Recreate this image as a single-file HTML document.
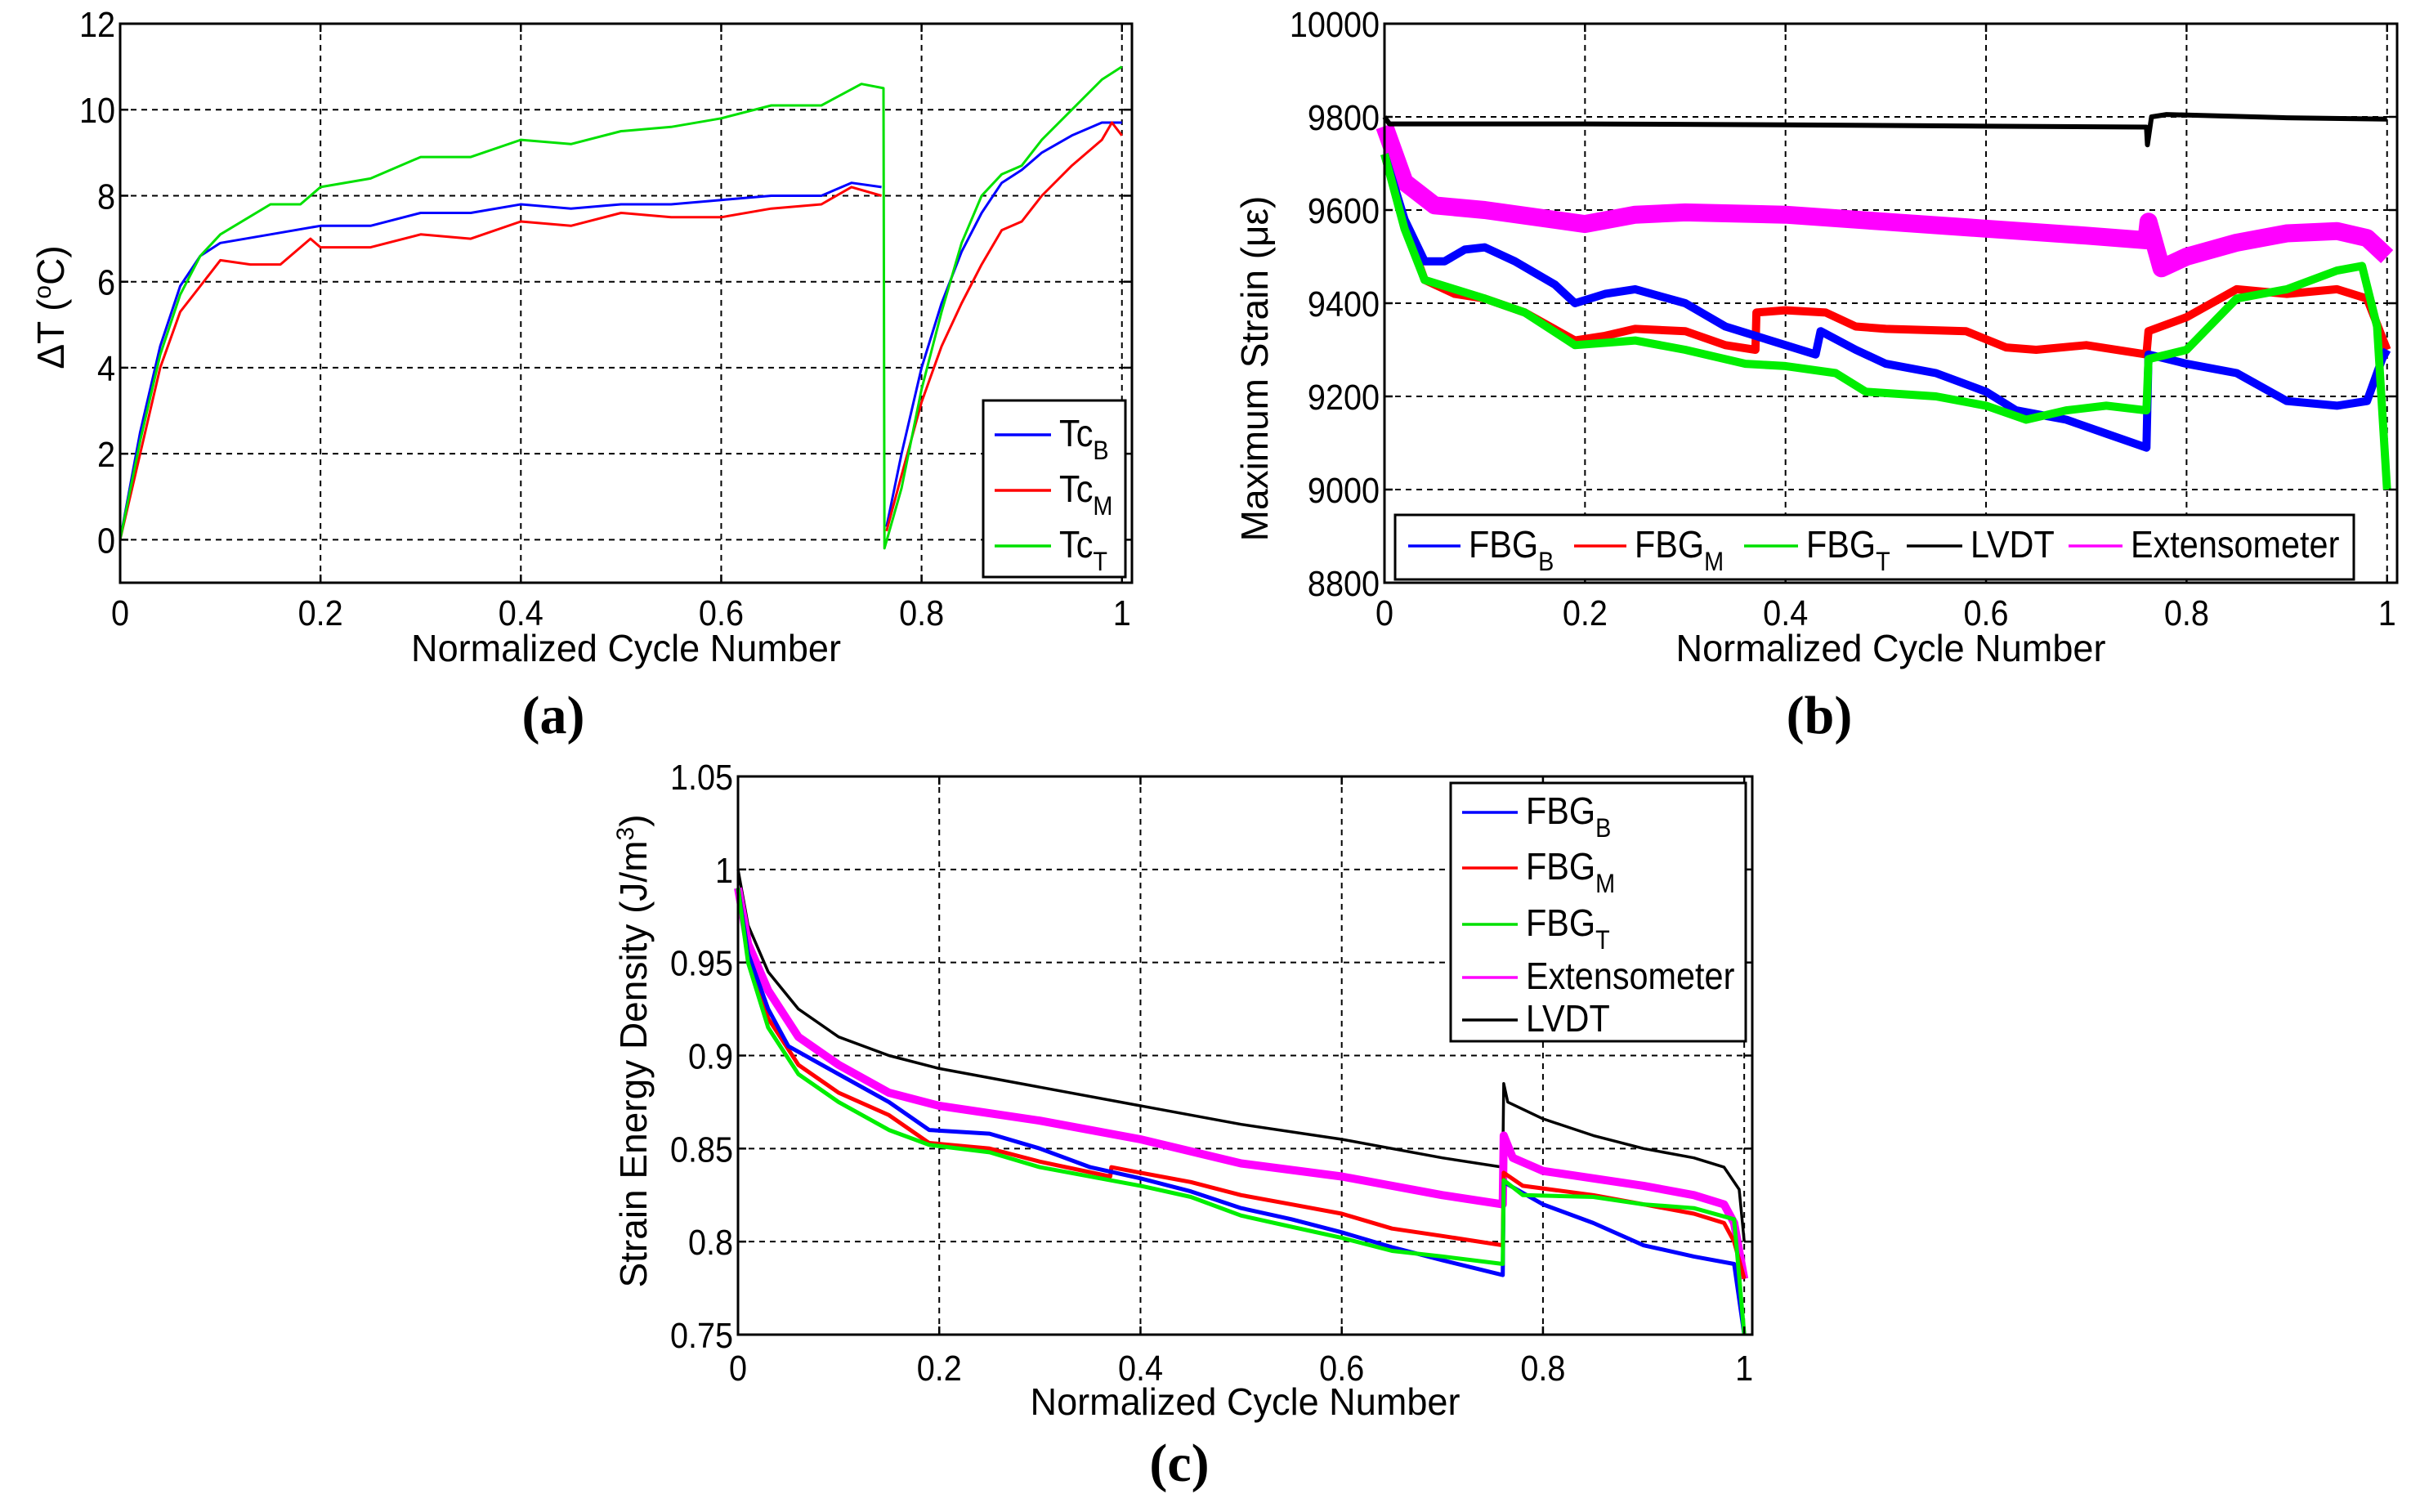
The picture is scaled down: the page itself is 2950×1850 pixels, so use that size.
<!DOCTYPE html>
<html><head><meta charset="utf-8"><style>
html,body{margin:0;padding:0;background:#fff;overflow:hidden;}
svg{display:block;}
text{font-family:"Liberation Sans",sans-serif;fill:#000;}
</style></head><body>
<svg id="fig" width="2950" height="1850" viewBox="0 0 2950 1850" xmlns="http://www.w3.org/2000/svg"></svg>
<script>
// ---------- Chart (a) data: Delta T ----------
const aTcBx=[0,0.02,0.04,0.06,0.08,0.1,0.15,0.2,0.25,0.3,0.35,0.4,0.45,0.5,0.55,0.6,0.65,0.7,0.73,0.76,null,0.765,0.78,0.8,0.82,0.84,0.86,0.88,0.9,0.92,0.95,0.98,1.0];
const aTcBy=[0,2.5,4.5,5.9,6.6,6.9,7.1,7.3,7.3,7.6,7.6,7.8,7.7,7.8,7.8,7.9,8.0,8.0,8.3,8.2,null,0.3,2.0,4.0,5.5,6.7,7.6,8.3,8.6,9.0,9.4,9.7,9.7];
const aTcMx=[0,0.02,0.04,0.06,0.08,0.1,0.13,0.16,0.19,0.2,0.25,0.3,0.35,0.4,0.45,0.5,0.55,0.6,0.65,0.7,0.73,0.76,null,0.765,0.78,0.8,0.82,0.84,0.86,0.88,0.9,0.92,0.95,0.98,0.99,1.0];
const aTcMy=[0,2.0,4.0,5.3,5.9,6.5,6.4,6.4,7.0,6.8,6.8,7.1,7.0,7.4,7.3,7.6,7.5,7.5,7.7,7.8,8.2,8.0,null,0.2,1.5,3.2,4.5,5.5,6.4,7.2,7.4,8.0,8.7,9.3,9.7,9.4];
const aTcTx=[0,0.02,0.04,0.06,0.08,0.1,0.15,0.18,0.2,0.25,0.3,0.35,0.4,0.45,0.5,0.55,0.6,0.65,0.7,0.74,0.762,0.763,0.78,0.8,0.82,0.84,0.86,0.88,0.9,0.92,0.95,0.98,1.0];
const aTcTy=[0,2.3,4.3,5.7,6.6,7.1,7.8,7.8,8.2,8.4,8.9,8.9,9.3,9.2,9.5,9.6,9.8,10.1,10.1,10.6,10.5,-0.2,1.2,3.5,5.3,6.9,8.0,8.5,8.7,9.3,10.0,10.7,11.0];
const aXTicks=[0,0.2,0.4,0.6,0.8,1];
const aXTickLabels=["0","0.2","0.4","0.6","0.8","1"];
const aYTicks=[0,2,4,6,8,10,12];
const aYTickLabels=["0","2","4","6","8","10","12"];

// ---------- Chart (b) data: Maximum strain ----------
const bLVDTx=[0,0.005,0.2,0.4,0.6,0.76,0.761,0.765,0.78,0.9,1.0];
const bLVDTy=[9800,9785,9785,9783,9780,9778,9740,9800,9805,9798,9795];
const bExtx=[0,0.02,0.05,0.1,0.2,0.25,0.3,0.4,0.5,0.6,0.7,0.76,0.762,0.775,0.8,0.85,0.9,0.95,0.98,0.99,1.0];
const bExty=[9780,9660,9610,9600,9570,9590,9595,9590,9575,9560,9545,9535,9575,9475,9500,9530,9550,9555,9540,9520,9500];
const bFBGBx=[0,0.02,0.04,0.06,0.08,0.1,0.13,0.17,0.19,0.22,0.25,0.3,0.34,0.37,0.4,0.43,0.435,0.47,0.5,0.55,0.6,0.63,0.68,0.72,0.76,0.762,0.8,0.85,0.9,0.95,0.98,0.995,1.0];
const bFBGBy=[9720,9580,9490,9490,9515,9520,9490,9440,9400,9420,9430,9400,9350,9330,9310,9290,9340,9300,9270,9250,9210,9170,9150,9120,9090,9290,9270,9250,9190,9180,9190,9280,9300];
const bFBGMx=[0,0.02,0.04,0.07,0.1,0.14,0.19,0.22,0.25,0.3,0.34,0.37,0.371,0.4,0.44,0.47,0.5,0.58,0.62,0.65,0.7,0.76,0.762,0.8,0.85,0.9,0.95,0.98,1.0];
const bFBGMy=[9720,9570,9450,9420,9410,9380,9320,9330,9345,9340,9310,9300,9380,9385,9380,9350,9345,9340,9305,9300,9310,9290,9340,9370,9430,9420,9430,9410,9300];
const bFBGTx=[0,0.02,0.04,0.07,0.1,0.14,0.19,0.25,0.3,0.36,0.4,0.45,0.48,0.55,0.6,0.64,0.68,0.72,0.76,0.762,0.8,0.85,0.9,0.95,0.975,0.99,1.0];
const bFBGTy=[9720,9560,9450,9430,9410,9380,9310,9320,9300,9270,9265,9250,9210,9200,9180,9150,9170,9180,9170,9280,9300,9410,9430,9470,9480,9350,9000];
const bXTicks=[0,0.2,0.4,0.6,0.8,1];
const bXTickLabels=["0","0.2","0.4","0.6","0.8","1"];
const bYTicks=[8800,9000,9200,9400,9600,9800,10000];
const bYTickLabels=["8800","9000","9200","9400","9600","9800","10000"];

// ---------- Chart (c) data: Strain energy density ----------
const cLVDTx=[0,0.01,0.03,0.06,0.1,0.15,0.2,0.3,0.4,0.5,0.6,0.7,0.76,0.761,0.765,0.8,0.85,0.9,0.95,0.98,0.995,1.0];
const cLVDTy=[1.0,0.97,0.945,0.925,0.91,0.9,0.893,0.883,0.873,0.863,0.855,0.845,0.84,0.885,0.875,0.866,0.857,0.85,0.845,0.84,0.828,0.8];
const cExtx=[0,0.01,0.03,0.06,0.1,0.15,0.2,0.3,0.4,0.5,0.6,0.7,0.76,0.761,0.77,0.8,0.9,0.95,0.98,0.99,1.0];
const cExty=[0.99,0.96,0.935,0.91,0.895,0.88,0.873,0.865,0.855,0.842,0.835,0.825,0.82,0.857,0.845,0.838,0.83,0.825,0.82,0.81,0.78];
const cFBGBx=[0,0.01,0.03,0.05,0.1,0.15,0.19,0.25,0.3,0.35,0.4,0.45,0.5,0.55,0.6,0.65,0.7,0.76,0.761,0.8,0.85,0.9,0.95,0.99,1.0];
const cFBGBy=[0.99,0.955,0.925,0.905,0.89,0.875,0.86,0.858,0.85,0.84,0.834,0.827,0.818,0.812,0.805,0.797,0.79,0.782,0.832,0.82,0.81,0.798,0.792,0.788,0.75];
const cFBGMx=[0,0.01,0.03,0.06,0.1,0.15,0.19,0.25,0.3,0.37,0.371,0.4,0.45,0.5,0.55,0.6,0.65,0.7,0.76,0.761,0.78,0.85,0.9,0.95,0.98,0.99,1.0];
const cFBGMy=[0.99,0.955,0.92,0.895,0.88,0.868,0.853,0.85,0.843,0.835,0.84,0.837,0.832,0.825,0.82,0.815,0.807,0.803,0.798,0.837,0.83,0.825,0.82,0.815,0.81,0.8,0.78];
const cFBGTx=[0,0.01,0.03,0.06,0.1,0.15,0.19,0.25,0.3,0.4,0.45,0.5,0.55,0.6,0.65,0.7,0.76,0.761,0.78,0.85,0.9,0.95,0.99,1.0];
const cFBGTy=[0.99,0.95,0.915,0.89,0.875,0.86,0.852,0.848,0.84,0.83,0.824,0.814,0.808,0.802,0.795,0.792,0.788,0.833,0.825,0.824,0.82,0.818,0.812,0.75];
const cXTicks=[0,0.2,0.4,0.6,0.8,1];
const cXTickLabels=["0","0.2","0.4","0.6","0.8","1"];
const cYTicks=[0.75,0.8,0.85,0.9,0.95,1,1.05];
const cYTickLabels=["0.75","0.8","0.85","0.9","0.95","1","1.05"];

const NS="http://www.w3.org/2000/svg";
const svg=document.getElementById('fig');
function el(tag,attrs,parent){const e=document.createElementNS(NS,tag);for(const k in attrs)e.setAttribute(k,attrs[k]);(parent||svg).appendChild(e);return e;}
function label(parent,x,y,str,size,sx,anchor){
  const g=el('g',{transform:`translate(${x},${y}) scale(${sx},1)`},parent);
  const t=el('text',{x:0,y:0,'font-size':size,'text-anchor':anchor||'start'},g);
  t.textContent=str;return t;
}

function drawChart(c){
  const g=el('g',{});
  
  
  const X=v=>c.L+(v-c.x0)/(c.x1-c.x0)*(c.R-c.L);
  const Y=v=>c.B-(v-c.y0)/(c.y1-c.y0)*(c.B-c.T);
  const grid=el('g',{},g);
  
  
  c.xt.forEach(v=>{if(v>c.x0)el('line',{x1:X(v),x2:X(v),y1:c.T,y2:c.B,stroke:'#000','stroke-width':2,'stroke-dasharray':'7,6'},grid);});
  c.yt.forEach(v=>{if(v>c.y0&&v<c.y1)el('line',{x1:c.L,x2:c.R,y1:Y(v),y2:Y(v),stroke:'#000','stroke-width':2,'stroke-dasharray':'7,6'},grid);});
  c.series.forEach(s=>{
    let d='',pen=false;
    for(let i=0;i<s.x.length;i++){
      if(s.x[i]===null){pen=false;continue;}
      d+=(pen?'L':'M')+X(s.x[i]).toFixed(1)+','+Y(s.y[i]).toFixed(1);pen=true;
    }
    const p=el('path',{d:d,fill:'none',stroke:s.color,'stroke-width':s.w,'stroke-linejoin':'round'},g);
    
    
  });
  const box=el('rect',{x:c.L,y:c.T,width:c.R-c.L,height:c.B-c.T,fill:'none',stroke:'#000','stroke-width':3},g);
  
  
  const xa=el('g',{},g);
  
  
  c.xt.forEach((v,i)=>{
    el('line',{x1:X(v),x2:X(v),y1:c.B,y2:c.B-10,stroke:'#000','stroke-width':2.5},xa);
    el('line',{x1:X(v),x2:X(v),y1:c.T,y2:c.T+10,stroke:'#000','stroke-width':2.5},xa);
    label(xa,X(v),c.B+c.xtb,c.xl[i],44,0.9,'middle');
  });
  const ya=el('g',{},g);
  
  
  c.yt.forEach((v,i)=>{
    el('line',{x1:c.L,x2:c.L+10,y1:Y(v),y2:Y(v),stroke:'#000','stroke-width':2.5},ya);
    el('line',{x1:c.R,x2:c.R-10,y1:Y(v),y2:Y(v),stroke:'#000','stroke-width':2.5},ya);
    label(ya,c.L-6,Y(v)+16,c.yl[i],44,0.9,'end');
  });
  const xt=label(g,(c.L+c.R)/2,c.B+c.xtt,'Normalized Cycle Number',46,0.98,'middle');
  
  
  return {g,X,Y};
}
function legendEntry(parent,x1,x2,y,color,main,sub,name){
  const g=el('g',{},parent);
  
  
  el('line',{x1:x1,x2:x2,y1:y,y2:y,stroke:color,'stroke-width':3.5},g);
  const gg=el('g',{transform:`translate(${x2+10},${y+14}) scale(0.9,1)`},g);
  const t=el('text',{x:0,y:0,'font-size':46},gg);
  t.appendChild(document.createTextNode(main));
  if(sub){const ts=el('tspan',{'font-size':32,dy:16},t);ts.textContent=sub;}
}
function panelLabel(x,y,str,name){
  const pl=el('text',{x:0,y:0,'font-size':66,'font-weight':'bold','text-anchor':'middle',style:'font-family:"Liberation Serif",serif',transform:`translate(${x},${y})`});
  pl.textContent=str;
  
  
}

// ===== Chart (a) =====
const A=drawChart({name:'chart-a-delta-t',L:147,R:1385,T:29,B:713,x0:0,x1:1.01,y0:-1,y1:12,xtb:52,xtt:96,
  xt:aXTicks,xl:aXTickLabels,yt:aYTicks,yl:aYTickLabels,
  series:[{id:'line-tc-b',x:aTcBx,y:aTcBy,color:'#0000ff',w:3},
          {id:'line-tc-m',x:aTcMx,y:aTcMy,color:'#ff0000',w:3},
          {id:'line-tc-t',x:aTcTx,y:aTcTy,color:'#00e000',w:3}]});
{
  const t=el('text',{x:0,y:0,'font-size':46,transform:'translate(78,376) rotate(-90)','text-anchor':'middle'},A.g);
  
  
  t.appendChild(document.createTextNode('ΔT ('));
  const s=el('tspan',{'font-size':30,dy:-16},t);s.textContent='o';
  const s2=el('tspan',{dy:16},t);s2.textContent='C)';
  const lg=el('g',{},A.g);
  
  
  el('rect',{x:1203,y:490,width:174,height:216,fill:'#fff',stroke:'#000','stroke-width':3},lg);
  legendEntry(lg,1217,1286,532,'#0000ff','Tc','B','legend-entry-tc-b');
  legendEntry(lg,1217,1286,600,'#ff0000','Tc','M','legend-entry-tc-m');
  legendEntry(lg,1217,1286,668,'#00e000','Tc','T','legend-entry-tc-t');
  panelLabel(677,897,'(a)','panel-label-a');
}

// ===== Chart (b) =====
const Bc=drawChart({name:'chart-b-max-strain',L:1694,R:2933,T:29,B:713,x0:0,x1:1.01,y0:8800,y1:10000,xtb:52,xtt:96,
  xt:bXTicks,xl:bXTickLabels,yt:bYTicks,yl:bYTickLabels,
  series:[{id:'line-extensometer',x:bExtx,y:bExty,color:'#ff00ff',w:22},
          {id:'line-lvdt',x:bLVDTx,y:bLVDTy,color:'#000000',w:6},
          {id:'line-fbg-m',x:bFBGMx,y:bFBGMy,color:'#ff0000',w:10},
          {id:'line-fbg-b',x:bFBGBx,y:bFBGBy,color:'#0000ff',w:10},
          {id:'line-fbg-t',x:bFBGTx,y:bFBGTy,color:'#00ee00',w:10}]});
{
  const t=el('text',{x:0,y:0,'font-size':46,transform:'translate(1551,451) rotate(-90)','text-anchor':'middle'},Bc.g);
  t.textContent='Maximum Strain (με)';
  
  
  const lg=el('g',{},Bc.g);
  
  
  el('rect',{x:1707,y:630,width:1173,height:79,fill:'#fff',stroke:'#000','stroke-width':3},lg);
  legendEntry(lg,1723,1787,668,'#0000ff','FBG','B','legend-entry-fbg-b');
  legendEntry(lg,1926,1990,668,'#ff0000','FBG','M','legend-entry-fbg-m');
  legendEntry(lg,2134,2200,668,'#00e000','FBG','T','legend-entry-fbg-t');
  legendEntry(lg,2333,2401,668,'#000000','LVDT','','legend-entry-lvdt');
  legendEntry(lg,2531,2597,668,'#ff00ff','Extensometer','','legend-entry-extensometer');
  panelLabel(2226,897,'(b)','panel-label-b');
}

// ===== Chart (c) =====
const Cc=drawChart({name:'chart-c-strain-energy',L:903,R:2144,T:950,B:1633,x0:0,x1:1.008,y0:0.75,y1:1.05,xtb:56,xtt:98,
  xt:cXTicks,xl:cXTickLabels,yt:cYTicks,yl:cYTickLabels,
  series:[{id:'line-lvdt',x:cLVDTx,y:cLVDTy,color:'#000000',w:3.5},
          {id:'line-extensometer',x:cExtx,y:cExty,color:'#ff00ff',w:10},
          {id:'line-fbg-m',x:cFBGMx,y:cFBGMy,color:'#ff0000',w:5},
          {id:'line-fbg-b',x:cFBGBx,y:cFBGBy,color:'#0000ff',w:5},
          {id:'line-fbg-t',x:cFBGTx,y:cFBGTy,color:'#00ee00',w:5}]});
{
  const t=el('text',{x:0,y:0,'font-size':46,transform:'translate(791,1286) rotate(-90)','text-anchor':'middle'},Cc.g);
  
  
  t.appendChild(document.createTextNode('Strain Energy Density (J/m'));
  const s=el('tspan',{'font-size':30,dy:-16},t);s.textContent='3';
  const s2=el('tspan',{dy:16},t);s2.textContent=')';
  const lg=el('g',{},Cc.g);
  
  
  el('rect',{x:1775,y:958,width:361,height:316,fill:'#fff',stroke:'#000','stroke-width':3},lg);
  legendEntry(lg,1789,1857,994,'#0000ff','FBG','B','legend-entry-fbg-b');
  legendEntry(lg,1789,1857,1062,'#ff0000','FBG','M','legend-entry-fbg-m');
  legendEntry(lg,1789,1857,1131,'#00e000','FBG','T','legend-entry-fbg-t');
  legendEntry(lg,1789,1857,1196,'#ff00ff','Extensometer','','legend-entry-extensometer');
  legendEntry(lg,1789,1857,1248,'#000000','LVDT','','legend-entry-lvdt');
  panelLabel(1443,1812,'(c)','panel-label-c');
}
</script>
</body></html>
